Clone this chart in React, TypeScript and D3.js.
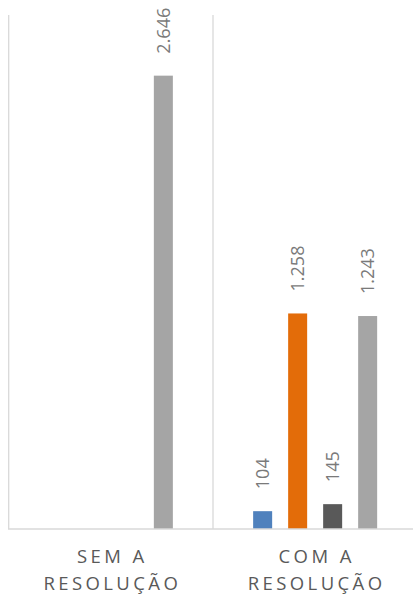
import * as React from "react";
import * as d3 from "d3";

const categories = ["SEM A RESOLUÇÃO", "COM A RESOLUÇÃO"];
const categoryLines = [
  ["SEM A", "RESOLUÇÃO"],
  ["COM A", "RESOLUÇÃO"],
];
const seriesNames = ["S1", "S2", "S3", "S4"];
const seriesColors = ["#4F81BD", "#E36C09", "#595959", "#A5A5A5"];
// values per series, one entry per category
const s1Values = [0, 104];
const s2Values = [0, 1258];
const s3Values = [0, 145];
const s4Values = [2646, 1243];
const allSeries = [s1Values, s2Values, s3Values, s4Values];

const fmt = (v: number) => d3.format(",")(v).replace(/,/g, ".");

const App = () => {
  const w = 413;
  const h = 597;
  const left = 8.7;
  const bandW = 204.3;
  const top = 15;
  const base = 529;

  const x = d3
    .scaleBand()
    .domain(categories)
    .range([left, left + bandW * 2])
    .padding(0);

  const xi = d3
    .scaleBand()
    .domain(seriesNames)
    .range([0, bandW])
    .paddingInner(0.457)
    .paddingOuter(1.147);

  const y = d3.scaleLinear().domain([0, 3000]).range([base, top]);

  const gridXs = [left, left + bandW, left + bandW * 2];

  return (
    <svg
      width={w}
      height={h}
      style={{ position: "absolute", left: 0, top: 0, background: "#fff" }}
      fontFamily="'Open Sans', 'Liberation Sans', sans-serif"
    >
      {gridXs.map((gx, i) => (
        <line key={i} x1={gx} x2={gx} y1={top} y2={base} stroke="#D9D9D9" strokeWidth={1.3} />
      ))}
      {categories.map((c, ci) =>
        allSeries.map((vals, si) => {
          const v = vals[ci];
          const bx = (x(c) as number) + (xi(seriesNames[si]) as number);
          const bw = xi.bandwidth();
          return (
            <g key={c + si}>
              <rect x={bx} y={y(v)} width={bw} height={base - y(v)} fill={seriesColors[si]} />
              {v > 0 && (
                <text
                  transform={`translate(${bx + bw / 2},${y(v) - 22}) rotate(-90)`}
                  dy="0.36em"
                  fontSize={18}
                  fill="#7A7A7A"
                >
                  {fmt(v)}
                </text>
              )}
            </g>
          );
        })
      )}
      <line x1={left - 0.7} x2={w} y1={base} y2={base} stroke="#D9D9D9" strokeWidth={1.3} />
      {categories.map((c, ci) => {
        const cx = (x(c) as number) + bandW / 2 + 1.5;
        return (
          <text key={c} textAnchor="middle" fontSize={18.5} letterSpacing={3.4} fill="#595959">
            <tspan x={cx} y={563}>
              {categoryLines[ci][0]}
            </tspan>
            <tspan x={cx} y={590}>
              {categoryLines[ci][1]}
            </tspan>
          </text>
        );
      })}
    </svg>
  );
};

export default App;
